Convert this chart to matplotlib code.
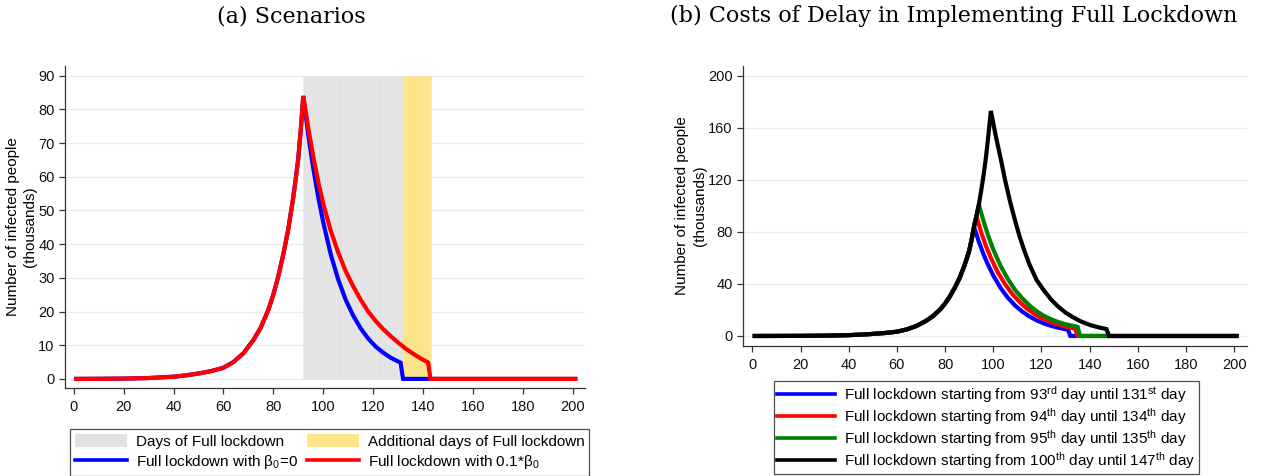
import matplotlib
matplotlib.use("Agg")
import matplotlib.pyplot as plt
from matplotlib.patches import Patch
from matplotlib.lines import Line2D

plt.rcParams["font.family"] = ["Liberation Sans", "DejaVu Sans"]
plt.rcParams["mathtext.fontset"] = "custom"
plt.rcParams["mathtext.rm"] = "Liberation Sans"
plt.rcParams["mathtext.it"] = "Liberation Sans:italic"
plt.rcParams["mathtext.bf"] = "Liberation Sans:bold"

# Shared epidemic curve before any lockdown (thousands of infected)
growth_days = [1, 10, 20, 30, 40, 45, 50, 55, 60, 64, 68, 72, 75, 78, 80,
               82, 84, 86, 88, 89, 90, 91, 92, 93, 94, 95, 96, 97, 98, 99]
growth_vals = [0.0, 0.03, 0.09, 0.25, 0.65, 1.05, 1.6, 2.3, 3.3, 5.0, 7.6,
               11.5, 15.3, 20.5, 25.0, 30.5, 37.0, 44.5, 54.0, 59.5, 65.5,
               74.0, 84.0, 92.0, 101.0, 112.0, 124.0, 138.0, 155.0, 173.0]

# Lockdown from day 93 to 131, beta0 = 0
blue_days = [94, 96, 98, 100, 103, 106, 109, 112, 115, 118, 121, 124, 127,
             131, 132, 201]
blue_vals = [72.5, 62.5, 54.0, 46.5, 37.0, 29.5, 23.5, 18.8, 15.0, 12.0, 9.6,
             7.8, 6.3, 4.8, 0.0, 0.0]

# Lockdown with 0.1*beta0
partial_days = [94, 96, 98, 100, 103, 106, 109, 112, 115, 118, 121, 124, 127,
                130, 133, 136, 139, 142, 143, 201]
partial_vals = [74.5, 66.0, 58.5, 52.0, 44.0, 37.5, 32.0, 27.5, 23.5, 20.0,
                17.2, 14.8, 12.7, 10.8, 9.0, 7.5, 6.1, 4.9, 0.0, 0.0]

# Delayed lockdowns
red_days = [95, 97, 99, 102, 105, 108, 111, 114, 117, 120, 123, 126, 129,
            132, 134, 135, 201]
red_vals = [79.5, 69.0, 60.0, 48.5, 39.5, 32.0, 26.0, 21.0, 17.0, 13.8, 11.3,
            9.3, 7.7, 6.4, 5.6, 0.0, 0.0]
green_days = [96, 98, 100, 103, 106, 109, 112, 115, 118, 121, 124, 127, 130,
              133, 135, 136, 201]
green_vals = [88.0, 76.5, 66.5, 54.0, 44.0, 35.5, 29.0, 23.5, 19.0, 15.5,
              12.8, 10.7, 9.0, 7.8, 7.0, 0.0, 0.0]
black_days = [101, 103, 105, 107, 109, 111, 113, 115, 118, 121, 124, 127, 130,
              133, 136, 140, 144, 147, 148, 201]
black_vals = [154.0, 137.0, 119.0, 103.0, 89.0, 76.0, 65.0, 55.0, 43.0, 35.0,
              28.0, 22.5, 18.0, 14.5, 11.5, 8.5, 6.5, 5.3, 0.0, 0.0]

lockdown_days = list(range(92, 132))
extra_days = list(range(132, 143))
band_top = 90

delay_labels = [
    r"Full lockdown starting from 93$^{\mathrm{rd}}$ day until 131$^{\mathrm{st}}$ day",
    r"Full lockdown starting from 94$^{\mathrm{th}}$ day until 134$^{\mathrm{th}}$ day",
    r"Full lockdown starting from 95$^{\mathrm{th}}$ day until 135$^{\mathrm{th}}$ day",
    r"Full lockdown starting from 100$^{\mathrm{th}}$ day until 147$^{\mathrm{th}}$ day",
]


def scenario(peak_day, tail_days, tail_vals):
    n = growth_days.index(peak_day) + 1
    return growth_days[:n] + tail_days, growth_vals[:n] + tail_vals


GRID = "#e6eef0"
AXC = "#333333"
FS = 11
LW = 3.0


def style_axes(ax):
    for s in ("top", "right"):
        ax.spines[s].set_visible(False)
    for s in ("left", "bottom"):
        ax.spines[s].set_color(AXC)
        ax.spines[s].set_linewidth(0.9)
    ax.tick_params(length=4, width=0.9, color=AXC, labelsize=10.5,
                   labelcolor="#111111")
    ax.tick_params(axis="x", pad=4.5)
    ax.tick_params(axis="y", pad=3.5)
    ax.yaxis.grid(True, color=GRID, linewidth=1.0)
    ax.set_axisbelow(True)
    ax.set_ylabel("Number of infected people\n(thousands)", fontsize=FS,
                  linespacing=1.3, labelpad=1)


fig = plt.figure(figsize=(12.67, 4.76), dpi=100)

# (a) Scenarios
ax1 = fig.add_axes([0.0513, 0.1849, 0.4104, 0.6765])
style_axes(ax1)
ax1.bar(lockdown_days, [band_top] * len(lockdown_days), width=1, align="edge",
        color="#e2e2e2", edgecolor="#e9e9e9", linewidth=0.4, zorder=1)
ax1.bar(extra_days, [band_top] * len(extra_days), width=1, align="edge",
        color="#ffe48a", edgecolor="#ffe48a", linewidth=0.4, zorder=1)
x, y = scenario(92, blue_days, blue_vals)
ax1.plot(x, y, color="#0000ff", lw=LW, zorder=3, solid_joinstyle="miter")
x, y = scenario(92, partial_days, partial_vals)
ax1.plot(x, y, color="#ff0000", lw=LW, zorder=4, solid_joinstyle="miter")
ax1.set_xlim(-3.5, 204.9)
ax1.set_ylim(-2.7, 92.9)
ax1.set_xticks(range(0, 201, 20))
ax1.set_yticks(range(0, 91, 10))

handles = [Patch(facecolor="#e2e2e2", edgecolor="none"),
           Line2D([], [], color="#0000ff", lw=2.6),
           Patch(facecolor="#ffe48a", edgecolor="none"),
           Line2D([], [], color="#ff0000", lw=2.6)]
labels = ["Days of Full lockdown", r"Full lockdown with β$_{\mathrm{0}}$=0",
          "Additional days of Full lockdown",
          r"Full lockdown with 0.1*β$_{\mathrm{0}}$"]
leg1 = fig.legend(handles, labels, ncol=2, loc="lower left",
                  bbox_to_anchor=(70 / 1267, 0.0), fontsize=FS,
                  frameon=True, fancybox=False, edgecolor="#222222",
                  handlelength=3.4, handleheight=1.0, handletextpad=0.6,
                  columnspacing=0.6, labelspacing=0.3, borderpad=0.3,
                  borderaxespad=0.0)
leg1.get_frame().set_linewidth(0.9)

# (b) Costs of delay
ax2 = fig.add_axes([0.5864, 0.2731, 0.3978, 0.5882])
style_axes(ax2)
for peak, d, v, c in [(92, blue_days, blue_vals, "#0000ff"),
                      (93, red_days, red_vals, "#ff0000"),
                      (94, green_days, green_vals, "#008000"),
                      (99, black_days, black_vals, "#000000")]:
    x, y = scenario(peak, d, v)
    ax2.plot(x, y, color=c, lw=LW, solid_joinstyle="miter")
ax2.set_xlim(-3.9, 205.3)
ax2.set_ylim(-7.7, 207.5)
ax2.set_xticks(range(0, 201, 20))
ax2.set_yticks(range(0, 201, 40))

handles2 = [Line2D([], [], color=c, lw=2.6)
            for c in ["#0000ff", "#ff0000", "#008000", "#000000"]]
leg2 = fig.legend(handles2, delay_labels, loc="lower left",
                  bbox_to_anchor=(774 / 1267, 2 / 476), fontsize=FS,
                  frameon=True, fancybox=False, edgecolor="#222222",
                  handlelength=3.8, handletextpad=0.6, labelspacing=0.08,
                  borderpad=0.2, borderaxespad=0.0)
leg2.get_frame().set_linewidth(0.9)

fig.text(291 / 1267, 1 - 16 / 476, "(a) Scenarios", family="DejaVu Serif",
         fontsize=16, ha="center", va="center")
fig.text(954 / 1267, 1 - 16 / 476,
         "(b) Costs of Delay in Implementing Full Lockdown",
         family="DejaVu Serif", fontsize=16, ha="center", va="center")

fig.savefig("out.png", dpi=100)
